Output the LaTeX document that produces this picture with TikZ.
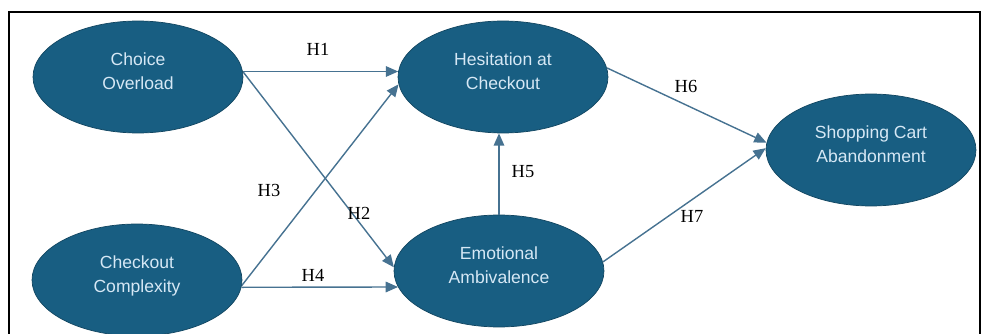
\documentclass[tikz,border=0pt]{standalone}
\usepackage{fontspec}
\setmainfont{Liberation Serif}
\setsansfont{Liberation Sans}
\usetikzlibrary{shapes.geometric,arrows.meta}

\definecolor{factorblue}{RGB}{24,94,130}
\definecolor{factortext}{RGB}{214,232,245}
\definecolor{hypblue}{RGB}{70,114,145}

\tikzset{
  factor/.style={ellipse, draw=factorblue!75!black, line width=0.4pt, fill=factorblue,
    text=factortext, font=\sffamily\fontsize{10}{13.5}\selectfont, align=center,
    minimum width=4.2cm, minimum height=2.24cm, inner sep=0pt,
    execute at end node={\rule[-7pt]{0pt}{0pt}}},
  hyp/.style={draw=hypblue, line width=0.8pt, -{Triangle[length=7pt,width=6pt]}},
  hlabel/.style={font=\fontsize{10.5}{12}\selectfont, inner sep=0pt}
}

\begin{document}
\begin{tikzpicture}[x=0.02cm,y=-0.02cm]
    \useasboundingbox (0,0) rectangle (981,334);
    % frame
    \draw [black, line width=1.1pt] (9,345) -- (9,12) -- (980,12) -- (980,345);
    % constructs
    \node [factor] (choice) at (138,77) {Choice\\Overload};
    \node [factor] (complexity) at (137,280) {Checkout\\Complexity};
    \node [factor] (hesitation) at (503,77) {Hesitation at\\Checkout};
    \node [factor] (ambivalence) at (499,271) {Emotional\\Ambivalence};
    \node [factor] (abandonment) at (871,150) {Shopping Cart\\Abandonment};
    % hypotheses
    \draw [hyp] (choice.3) -- (hesitation.177);
    \draw [hyp] (choice.3) -- (ambivalence.178);
    \draw [hyp] (complexity.357) -- (hesitation.184);
    \draw [hyp] (complexity.356) -- (ambivalence.189);
    \draw [hyp] (ambivalence.north) -- (ambivalence.north |- hesitation.south);
    \draw [hyp] (hesitation.5) -- (abandonment.176);
    \draw [hyp] (ambivalence.5) -- (abandonment.179);
    \node [hlabel] (h1) at (318,49) {H1};
    \node [hlabel] (h2) at (359,213) {H2};
    \node [hlabel] (h3) at (269,190) {H3};
    \node [hlabel] (h4) at (313,275) {H4};
    \node [hlabel] (h5) at (523,172) {H5};
    \node [hlabel] (h6) at (686,86) {H6};
    \node [hlabel] (h7) at (692,216) {H7};
\end{tikzpicture}
\end{document}
